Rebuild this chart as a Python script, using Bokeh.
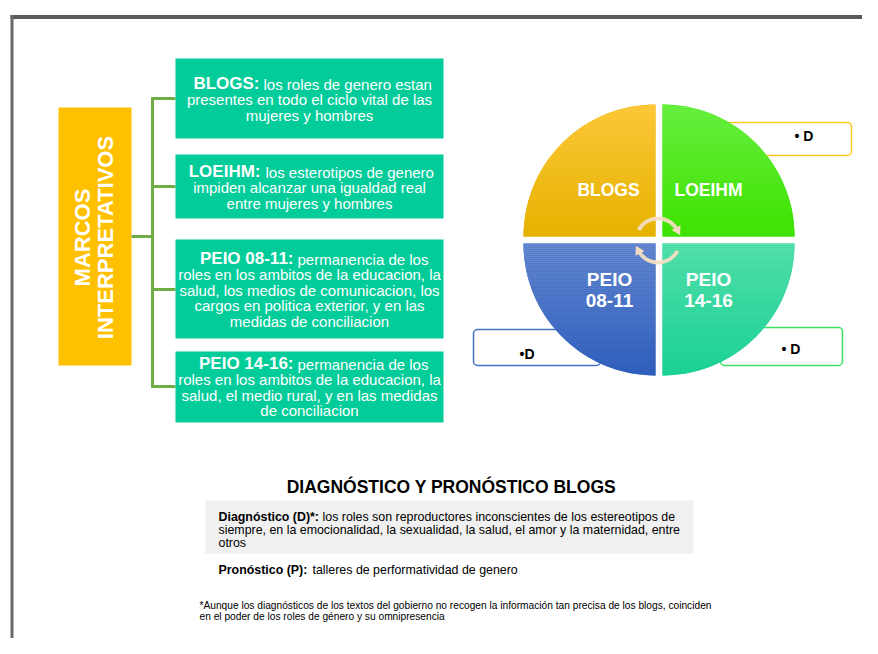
import numpy as np
from bokeh.plotting import figure
from bokeh.models import Range1d
from bokeh.embed import file_html
from bokeh.resources import INLINE
from bokeh.core.properties import value

# ---------------- data (texts) ----------------
side_title = ["MARCOS", "INTERPRETATIVOS"]

box_labels = ["BLOGS:", "LOEIHM:", "PEIO 08-11:", "PEIO 14-16:"]
box_first = ["los roles de genero estan", "los esterotipos de genero",
             "permanencia de los", "permanencia de los"]
box_rest = [
    ["presentes en todo el ciclo vital de las", "mujeres y hombres"],
    ["impiden alcanzar una igualdad real", "entre mujeres y hombres"],
    ["roles en los ambitos de la educacion, la", "salud, los medios de comunicacion, los",
     "cargos en politica exterior, y en las", "medidas de conciliacion"],
    ["roles en los ambitos de la educacion, la", "salud, el medio rural, y en las medidas",
     "de conciliacion"],
]

quad_names = [["BLOGS"], ["LOEIHM"], ["PEIO", "08-11"], ["PEIO", "14-16"]]
d_labels = ["• D", "• D", "•D"]

bottom_title = "DIAGNÓSTICO Y PRONÓSTICO BLOGS"
diag_bold = "Diagnóstico (D)*:"
diag_lines = ["los roles son reproductores inconscientes de los estereotipos de",
              "siempre, en la emocionalidad, la sexualidad, la salud, el amor y la maternidad, entre",
              "otros"]
prog_bold = "Pronóstico (P):"
prog_text = "talleres de performatividad de genero"
footnote = ["*Aunque los diagnósticos de los textos del gobierno no recogen la información tan precisa de los blogs, coinciden",
            "en el poder de los roles de género y su omnipresencia"]

# ---------------- figure ----------------
FONT = value("Liberation Sans")


def Y(sy):
    return 654 - sy


p = figure(width=862, height=638, x_range=Range1d(0, 862), y_range=Range1d(16, 654),
           output_backend="svg", toolbar_location=None, min_border=0)
p.axis.visible = False
p.grid.visible = False
p.outline_line_color = None
p.background_fill_color = "white"
p.border_fill_color = "white"


def txt(x, y, t, size, color="black", bold=False, align="left", baseline="middle", angle=0.0):
    p.text(x=x, y=y, text=t, text_font=FONT, text_font_size=value(size),
           text_font_style="bold" if bold else "normal", text_color=color,
           text_align=align, text_baseline=baseline, angle=angle)


# frame
p.line([10, 880], [Y(16.5), Y(16.5)], line_width=4, line_color="#5a5a5a")
p.line([11.5, 11.5], [Y(14.5), Y(660)], line_width=3, line_color="#6a6a6a")

# side title box
p.quad(left=[58], right=[131], top=[Y(107)], bottom=[Y(365)], fill_color="#FFC000", line_color=None)
txt([82, 105], [Y(237), Y(237)], side_title, "22px", "white", True, "center", "middle", np.pi / 2)

# bracket
GREEN = "#70AD47"
p.line([131, 152], [Y(236), Y(236)], line_width=3, line_color=GREEN)
p.line([152, 152], [Y(97), Y(387)], line_width=3, line_color=GREEN)
for by in [98, 186, 289, 386]:
    p.line([151, 175], [Y(by), Y(by)], line_width=3, line_color=GREEN)

# green text boxes
box_top = [58, 154, 239, 351]
box_bot = [138, 218, 338, 422]
first_y = [83, 171, 258, 363]
bold_right = [259, 260, 293, 293]
reg_left = [263, 265, 297, 297]
LINE = 15.8
p.quad(left=[175] * 4, right=[443] * 4, top=[Y(t) for t in box_top], bottom=[Y(b) for b in box_bot],
       fill_color="#02CC99", line_color=None)
for i in range(4):
    txt([bold_right[i]], [Y(first_y[i])], [box_labels[i]], "17px", "white", True, "right")
    txt([reg_left[i]], [Y(first_y[i] + 0.5)], [box_first[i]], "15px", "white", False, "left")
    ys = [Y(first_y[i] + LINE * (k + 1)) for k in range(len(box_rest[i]))]
    txt([309] * len(ys), ys, box_rest[i], "15px", "white", False, "center")

# D boxes (behind circle)
d_boxes = [(720, 851, 122, 155, "#FFC820"), (720, 842, 327, 365, "#3EE060"), (473, 600, 329, 365, "#4472C4")]
for (l, r, t, b, c) in d_boxes:
    p.quad(left=[l], right=[r], top=[Y(t)], bottom=[Y(b)], fill_color="white",
           line_color=c, line_width=1.5, border_radius=4)
txt([794, 781, 519], [Y(135), Y(348), Y(353)], d_labels, "14px", "black", True, "left")

# circle of quadrants with vertical gradients
R = 132
quads = [
    (655, 236, -1, -1, (255, 202, 64), (230, 178, 0)),
    (662, 236, 1, -1, (108, 240, 72), (62, 226, 0)),
    (655, 243, -1, 1, (104, 138, 208), (46, 94, 188)),
    (662, 243, 1, 1, (88, 224, 172), (26, 208, 148)),
]


def hexc(c):
    return "#%02x%02x%02x" % tuple(int(round(v)) for v in c)


for (cx, cy, sx, sy, ctop, cbot) in quads:
    ang = np.linspace(0, np.pi / 2, 80)
    bx = [cx] + list(cx + sx * R * np.cos(ang)) + [cx]
    byy = [cy] + list(cy + sy * R * np.sin(ang)) + [cy]
    p.patch(bx, [Y(v) for v in byy], fill_color=hexc(cbot), line_color=None)
    ytop = cy - R if sy < 0 else cy
    n = 66
    edges = np.linspace(ytop, ytop + R, n + 1)
    xs, ys, cols = [], [], []
    for k in range(n):
        s0, s1 = edges[k], edges[k + 1]
        w0 = np.sqrt(max(R * R - (s0 - cy) ** 2, 0))
        w1 = np.sqrt(max(R * R - (s1 - cy) ** 2, 0))
        xs.append([cx, cx + sx * w0, cx + sx * w1, cx])
        ys.append([Y(s0), Y(s0), Y(s1), Y(s1)])
        t = (0.5 * (s0 + s1) - ytop) / R
        cols.append(hexc([ctop[j] + (cbot[j] - ctop[j]) * t for j in range(3)]))
    p.patches(xs, ys, fill_color=cols, line_color=None)

# quadrant names
name_pos = [(608, [189], "17.5px"), (708, [189], "17.5px"), (609, [279, 300], "19px"), (708, [279, 300], "19px")]
for names, (nx, nys, fs) in zip(quad_names, name_pos):
    txt([nx] * len(names), [Y(v) for v in nys], names, fs, "white", True, "center")

# circular arrows
AC = "#F3DDC2"
acx, acy, ar = 657.5, 240, 22
p.arc(x=[acx], y=[Y(acy)], radius=ar, start_angle=np.radians(28), end_angle=np.radians(152),
      line_width=4, line_color=AC, line_alpha=0.95)
p.arc(x=[acx], y=[Y(acy)], radius=ar, start_angle=np.radians(208), end_angle=np.radians(332),
      line_width=4, line_color=AC, line_alpha=0.95)
heads = [28, 208]
hx = [acx + ar * np.cos(np.radians(a)) for a in heads]
hy = [Y(acy) + ar * np.sin(np.radians(a)) for a in heads]
hang = [np.radians(a - 180) for a in heads]
p.scatter(x=hx, y=hy, marker="triangle", size=10, angle=hang, fill_color=AC, line_color=None)

# bottom section
txt([451], [Y(486)], [bottom_title], "17.5px", "black", True, "center")
p.quad(left=[205], right=[693], top=[Y(500)], bottom=[Y(553)], fill_color="#F0F0F0", line_color=None)
txt([218], [Y(516)], [diag_bold], "12.4px", "black", True, "left")
txt([322], [Y(516)], [diag_lines[0]], "12.4px", "black", False, "left")
txt([218, 218], [Y(529), Y(542)], diag_lines[1:], "12.4px", "black", False, "left")
txt([218], [Y(569)], [prog_bold], "12.4px", "black", True, "left")
txt([312], [Y(569)], [prog_text], "12.4px", "black", False, "left")
txt([199, 199], [Y(605), Y(616)], footnote, "10.2px", "black", False, "left")

open("out.html", "w").write(file_html(p, INLINE))
